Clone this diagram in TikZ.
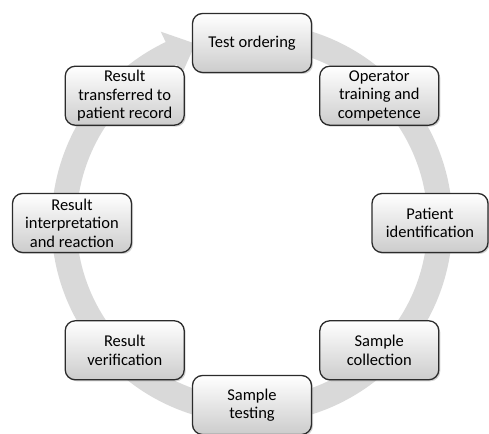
\documentclass[tikz,border=0pt]{standalone}
\usepackage{fontspec}
\setmainfont{Carlito}
\usetikzlibrary{shadows,calc}
\definecolor{ringgray}{HTML}{D9D9D9}
\definecolor{boxline}{HTML}{2B2B2B}
\tikzset{
  stepbox/.style={draw=boxline, line width=1.3pt, rounded corners=10pt,
    top color=white, bottom color=black!20, minimum width=119pt, minimum height=59pt,
    align=center, inner sep=3pt, font=\fontsize{16.5}{18.5}\selectfont,
    drop shadow={shadow xshift=1.5pt, shadow yshift=-1.5pt, opacity=0.35}},
  ring/.style={draw=ringgray, line width=25pt},
}
\begin{document}
\begin{tikzpicture}[x=1pt,y=1pt]
\useasboundingbox (0,0) rectangle (489,433);
\coordinate (c) at (252,210);
% ring
\draw[ring] ($(c)+(80:188)$) arc[start angle=80, end angle=-245, radius=188];
\fill[ringgray] ($(c)+(115.5:164)$) -- ($(c)+(115.5:212)$) -- ($(c)+(107.5:188)$) -- cycle;
% boxes
\node[stepbox] (t1) at ($(c)+(90:180)$) {Test ordering};
\node[stepbox] (t2) at ($(c)+(45:180)$) {Operator\\training and\\competence};
\node[stepbox, minimum width=116pt] (t3) at (430,210) {Patient\\identification};
\node[stepbox] (t4) at ($(c)+(-45:180)$) {Sample\\collection};
\node[stepbox] (t5) at (252,28) {Sample\\testing};
\node[stepbox] (t6) at ($(c)+(-135:180)$) {Result\\verification};
\node[stepbox] (t7) at ($(c)+(180:180)$) {Result\\interpretation\\and reaction};
\node[stepbox] (t8) at ($(c)+(135:180)$) {Result\\transferred to\\patient record};
\end{tikzpicture}
\end{document}
